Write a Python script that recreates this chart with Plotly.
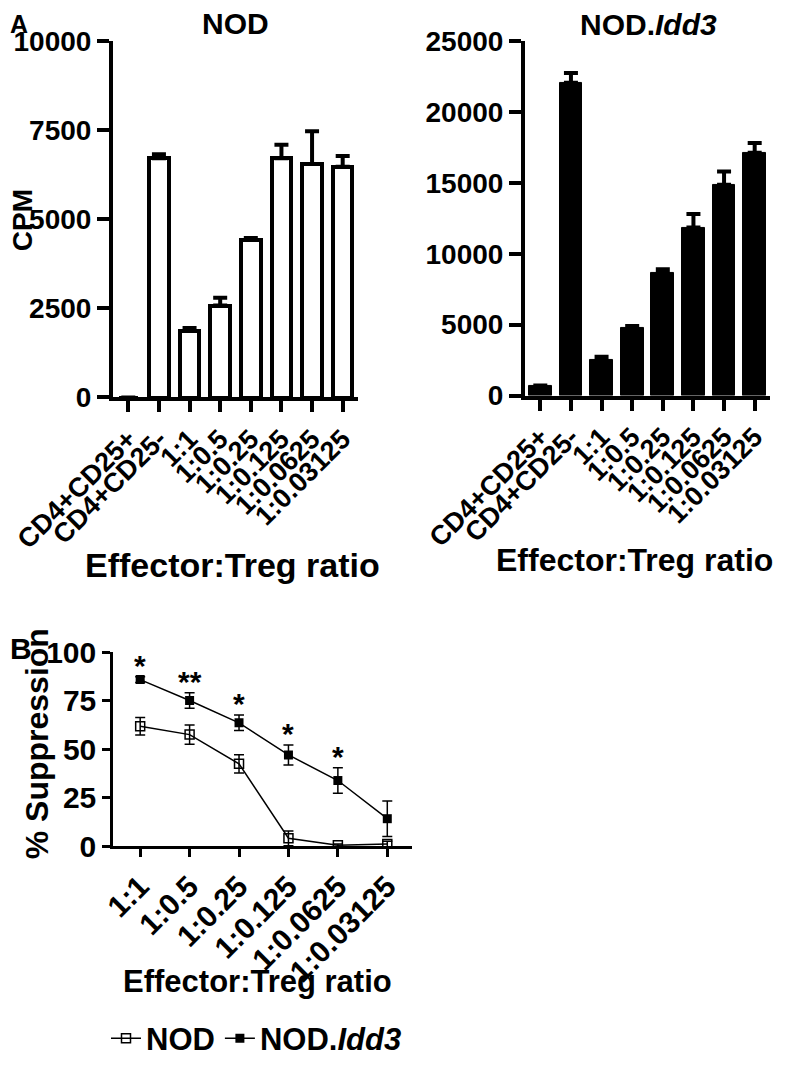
import plotly.graph_objects as go

# the html page puts the figure 8 px in from the window edge (default body margin)
OFF = 8
W, H = 791 - 2 * OFF, 1074 - 2 * OFF

categories_a = ["CD4+CD25+", "CD4+CD25-", "1:1", "1:0.5", "1:0.25", "1:0.125", "1:0.0625", "1:0.03125"]
nod_cpm = [0, 6710, 1870, 2580, 4420, 6710, 6550, 6470]
nod_cpm_err = [0, 110, 80, 220, 50, 380, 920, 300]
idd3_cpm = [700, 22050, 2530, 4800, 8630, 11850, 14860, 17120]
idd3_cpm_err = [0, 690, 210, 100, 270, 950, 940, 680]
cpm_ticks_nod = [0, 2500, 5000, 7500, 10000]
cpm_ticks_idd3 = [0, 5000, 10000, 15000, 20000, 25000]

ratios_b = ["1:1", "1:0.5", "1:0.25", "1:0.125", "1:0.0625", "1:0.03125"]
nod_supp = [61.8, 57.5, 42.4, 4.0, 0.4, 1.0]
nod_supp_err = [4.5, 5.0, 4.7, 3.8, 0.6, 1.5]
idd3_supp = [85.9, 75.1, 63.6, 47.0, 33.8, 14.1]
idd3_supp_err = [1.5, 4.0, 4.0, 5.2, 6.6, 9.2]
supp_ticks = [0, 25, 50, 75, 100]
stars = ["*", "**", "*", "*", "*", ""]

FONT = "Liberation Sans"


def px_x(p):
    return (p - OFF) / W


def px_y(p):
    return 1 - (p - OFF) / H


fig = go.Figure()

idx_a = list(range(len(categories_a)))
idx_b = list(range(len(ratios_b)))

fig.add_trace(go.Bar(
    x=idx_a, y=nod_cpm, width=0.64,
    marker=dict(color="white", line=dict(color="black", width=4)),
    error_y=dict(type="data", array=nod_cpm_err, arrayminus=[0] * len(nod_cpm),
                 symmetric=False, color="black", thickness=4, width=7),
    xaxis="x", yaxis="y", showlegend=False,
))
fig.add_trace(go.Bar(
    x=idx_a, y=idd3_cpm, width=0.74,
    marker=dict(color="black", line=dict(color="black", width=1)),
    error_y=dict(type="data", array=idd3_cpm_err, arrayminus=[0] * len(idd3_cpm),
                 symmetric=False, color="black", thickness=4, width=7),
    xaxis="x2", yaxis="y2", showlegend=False,
))
fig.add_trace(go.Scatter(
    x=idx_b, y=nod_supp, mode="lines+markers", name="NOD",
    line=dict(color="black", width=1.5),
    marker=dict(symbol="square-open", size=9, color="black", line=dict(width=1.5)),
    error_y=dict(type="data", array=nod_supp_err, color="black", thickness=1.5, width=5),
    xaxis="x3", yaxis="y3",
))
fig.add_trace(go.Scatter(
    x=idx_b, y=idd3_supp, mode="lines+markers", name="NOD.<i>Idd3</i>",
    line=dict(color="black", width=1.5),
    marker=dict(symbol="square", size=9, color="black"),
    error_y=dict(type="data", array=idd3_supp_err, color="black", thickness=1.5, width=5),
    xaxis="x3", yaxis="y3",
))

axis_common = dict(showgrid=False, zeroline=False, showline=True, linecolor="black",
                   ticks="outside", tickcolor="black", mirror=False, automargin=False,
                   ticklabeloverflow="allow",
                   tickfont=dict(family=FONT, size=28, color="black", weight="bold"))
cat_font = dict(family=FONT, size=27, color="black", weight="bold")
b_font = dict(family=FONT, size=30, color="black", weight="bold")

fig.update_layout(
    template="none",
    width=W, height=H,
    margin=dict(l=0, r=0, t=0, b=0, pad=0),
    paper_bgcolor="white", plot_bgcolor="white",
    font=dict(family=FONT, color="black", weight="bold"),
    bargap=0,
    xaxis=dict(axis_common, domain=[px_x(113), px_x(358)], range=[-0.5, 7.5],
               tickmode="array", tickvals=idx_a, ticktext=categories_a, tickangle=-45,
               tickfont=cat_font, linewidth=4, tickwidth=4, ticklen=11, anchor="y"),
    yaxis=dict(axis_common, domain=[px_y(410), px_y(42)], range=[0, 10000],
               tickmode="array", tickvals=cpm_ticks_nod, ticktext=[str(v) for v in cpm_ticks_nod],
               linewidth=4, tickwidth=4, ticklen=12, anchor="x"),
    xaxis2=dict(axis_common, domain=[px_x(525), px_x(770)], range=[-0.5, 7.5],
                tickmode="array", tickvals=idx_a, ticktext=categories_a, tickangle=-45,
                tickfont=cat_font, linewidth=4, tickwidth=4, ticklen=11, anchor="y2"),
    yaxis2=dict(axis_common, domain=[px_y(408), px_y(42)], range=[0, 25000],
                tickmode="array", tickvals=cpm_ticks_idd3,
                ticktext=[str(v) for v in cpm_ticks_idd3], linewidth=4, tickwidth=4,
                ticklen=12, anchor="x2"),
    xaxis3=dict(axis_common, domain=[px_x(113), px_x(412)], range=[-0.55, 5.5],
                tickmode="array", tickvals=idx_b, ticktext=ratios_b, tickangle=-45,
                tickfont=b_font, linewidth=2.5, tickwidth=2.5, ticklen=8, anchor="y3"),
    yaxis3=dict(axis_common, domain=[px_y(873), px_y(673)], range=[0, 100],
                tickmode="array", tickvals=supp_ticks, ticktext=[str(v) for v in supp_ticks],
                tickfont=b_font, linewidth=2.5, tickwidth=2.5, ticklen=8, anchor="x3"),
    legend=dict(orientation="h", x=px_x(106), y=px_y(1044), xanchor="left", yanchor="top",
                font=dict(family=FONT, size=31, color="black", weight="bold"),
                bgcolor="rgba(0,0,0,0)", itemwidth=30, tracegroupgap=0),
    showlegend=True,
)

ann = []


def text(x, y, s, size, angle=0, xanchor="center", yanchor="middle"):
    ann.append(dict(x=px_x(x), y=px_y(y), xref="paper", yref="paper", text=s,
                    showarrow=False, textangle=angle, xanchor=xanchor, yanchor=yanchor,
                    font=dict(family=FONT, size=size, color="black", weight="bold")))


text(8, 8, "A", 25, xanchor="left", yanchor="top")
text(8, 650, "B", 30, xanchor="left", yanchor="top")
text(235, 24, "NOD", 30)
text(648, 25, "NOD.<i>Idd3</i>", 30)
text(22, 227, "CPM", 28, angle=-90)
text(37, 768, "% Suppression", 32, angle=-90)
text(232, 583, "Effector:Treg ratio", 34)
text(634, 578, "Effector:Treg ratio", 32)
text(257, 1013, "Effector:Treg ratio", 31)

for i, s in enumerate(stars):
    if s:
        ann.append(dict(x=idx_b[i], y=idd3_supp[i] + idd3_supp_err[i], xref="x3", yref="y3",
                        text=s, showarrow=False, yanchor="bottom", yshift=-7,
                        font=dict(family=FONT, size=30, color="black", weight="bold")))

fig.update_layout(annotations=ann)

fig.write_html("out.html")
